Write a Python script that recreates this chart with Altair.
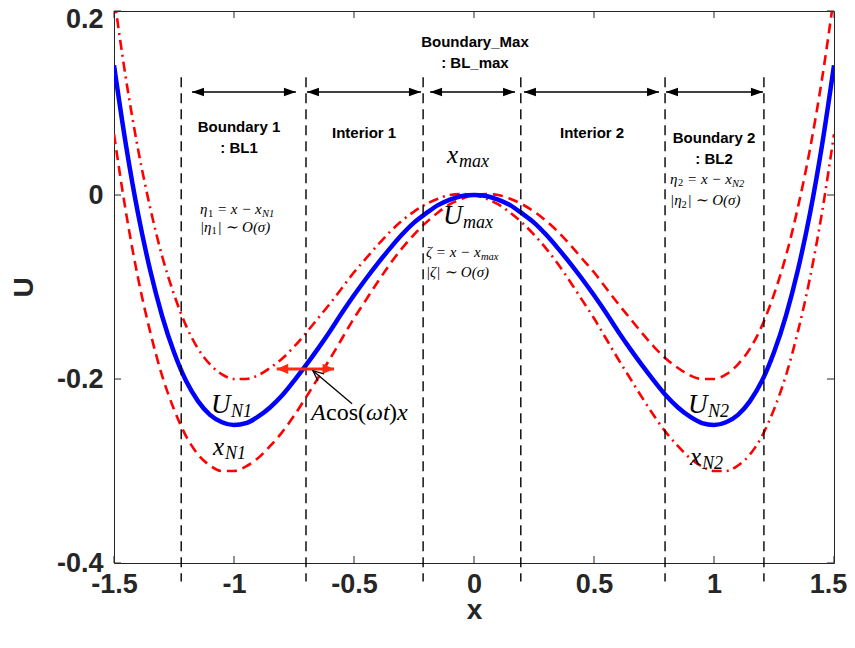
import altair as alt
import pandas as pd

# ---------------- data ----------------
x_vals = [-1.50, -1.45, -1.40, -1.35, -1.30, -1.25, -1.20, -1.15, -1.10, -1.05,
          -1.00, -0.95, -0.90, -0.85, -0.80, -0.75, -0.70, -0.65, -0.60, -0.55,
          -0.50, -0.45, -0.40, -0.35, -0.30, -0.25, -0.20, -0.15, -0.10, -0.05,
          0.00, 0.05, 0.10, 0.15, 0.20, 0.25, 0.30, 0.35, 0.40, 0.45,
          0.50, 0.55, 0.60, 0.65, 0.70, 0.75, 0.80, 0.85, 0.90, 0.95,
          1.00, 1.05, 1.10, 1.15, 1.20, 1.25, 1.30, 1.35, 1.40, 1.45, 1.50]

u_vals = [0.141, 0.054, -0.020, -0.081, -0.131, -0.171, -0.202, -0.224, -0.239, -0.247,
          -0.250, -0.248, -0.241, -0.231, -0.218, -0.202, -0.185, -0.167, -0.148, -0.128,
          -0.109, -0.091, -0.074, -0.058, -0.043, -0.030, -0.020, -0.011, -0.005, -0.001,
          0.000, -0.001, -0.005, -0.011, -0.020, -0.030, -0.043, -0.058, -0.074, -0.091,
          -0.109, -0.128, -0.148, -0.167, -0.185, -0.202, -0.218, -0.231, -0.241, -0.248,
          -0.250, -0.247, -0.239, -0.224, -0.202, -0.171, -0.131, -0.081, -0.020, 0.054, 0.141]

red_dashdot_vals = [0.216, 0.126, 0.050, -0.013, -0.066, -0.108, -0.142, -0.167, -0.184, -0.195,
                    -0.200, -0.200, -0.196, -0.188, -0.178, -0.165, -0.150, -0.134, -0.118, -0.101,
                    -0.084, -0.069, -0.054, -0.040, -0.028, -0.018, -0.010, -0.004, 0.000, 0.001,
                    0.000, -0.004, -0.010, -0.019, -0.030, -0.043, -0.058, -0.075, -0.094, -0.114,
                    -0.134, -0.156, -0.178, -0.199, -0.220, -0.240, -0.258, -0.273, -0.286, -0.295,
                    -0.300, -0.300, -0.294, -0.282, -0.262, -0.233, -0.196, -0.148, -0.090, -0.019, 0.066]

red_dashed_vals = [0.066, -0.019, -0.090, -0.148, -0.196, -0.233, -0.262, -0.282, -0.294, -0.300,
                   -0.300, -0.295, -0.286, -0.273, -0.258, -0.240, -0.220, -0.199, -0.178, -0.156,
                   -0.134, -0.114, -0.094, -0.075, -0.058, -0.043, -0.030, -0.019, -0.010, -0.004,
                   0.000, 0.001, 0.000, -0.004, -0.010, -0.018, -0.028, -0.040, -0.054, -0.069,
                   -0.084, -0.101, -0.118, -0.134, -0.150, -0.165, -0.178, -0.188, -0.196, -0.200,
                   -0.200, -0.195, -0.184, -0.167, -0.142, -0.108, -0.066, -0.013, 0.050, 0.126, 0.216]

x_ticks = [-1.5, -1.0, -0.5, 0.0, 0.5, 1.0, 1.5]
y_ticks = [-0.4, -0.2, 0.0, 0.2]

region_bounds = [-1.22, -0.70, -0.212, 0.195, 0.796, 1.208]
region_top = 0.128
region_bottom = -0.42

arrow_level = 0.112
arrow_left = [-1.175, -0.696, -0.183, 0.208, 0.800]
arrow_right = [-0.742, -0.221, 0.171, 0.771, 1.204]

region_texts = ["Boundary 1", ": BL1", "Interior 1", "Boundary_Max", ": BL_max",
                "Interior 2", "Boundary 2", ": BL2"]
region_text_x = [-0.979, -0.979, -0.458, 0.004, 0.004, 0.492, 1.0, 1.0]
region_text_y = [0.074, 0.051, 0.067, 0.166, 0.1435, 0.067, 0.062, 0.039]

red_arrow_x = [-0.822, -0.583]
red_arrow_y = -0.189

note_tail = (-0.508, -0.227)
note_tip = (-0.671, -0.191)

# ---------------- helpers ----------------
XS = alt.Scale(domain=[-1.5, 1.5], nice=False, zero=False)
YS = alt.Scale(domain=[-0.4, 0.2], nice=False, zero=False)
AXIS_COLOR = "#262626"
SANS = "Liberation Sans"
SERIF = "Liberation Serif"

one = pd.DataFrame({"k": [0]})

curves = pd.DataFrame({"x": x_vals, "u": u_vals,
                       "dd": red_dashdot_vals, "da": red_dashed_vals})

base = alt.Chart(curves)

x_axis = alt.Axis(values=x_ticks, labelExpr="toString(datum.value)", title="x",
                  labelFont=SANS, labelFontSize=27, labelFontWeight="bold",
                  labelColor=AXIS_COLOR, labelPadding=8, labelFlush=False,
                  labelOffset={"condition": {"test": "datum.value > 1.4", "value": -6},
                               "value": 0},
                  labelOverlap=False, ticks=False, domain=False, grid=False,
                  titleFont=SANS, titleFontSize=28, titleFontWeight="bold",
                  titleColor=AXIS_COLOR, titleX=360, titleY=47,
                  titleBaseline="middle", titleAlign="center")
y_axis = alt.Axis(values=y_ticks, labelExpr="toString(datum.value)", title="U",
                  labelFont=SANS, labelFontSize=27, labelFontWeight="bold",
                  labelColor=AXIS_COLOR, labelPadding=11, labelFlush=False,
                  labelOffset={"condition": {"test": "datum.value > 0.15", "value": 8},
                               "value": 0},
                  labelOverlap=False, ticks=False, domain=False, grid=False,
                  titleFont=SANS, titleFontSize=28, titleFontWeight="bold",
                  titleColor=AXIS_COLOR, titleX=-90, titleY=276,
                  titleBaseline="middle", titleAlign="center", titleAngle=270)

dashdot = base.mark_line(color="#ff0000", strokeWidth=2.6, strokeDash=[10, 5, 2, 5],
                         clip=True, interpolate="monotone").encode(
    x=alt.X("x:Q", scale=XS, axis=x_axis),
    y=alt.Y("dd:Q", scale=YS, axis=y_axis))
dashed = base.mark_line(color="#ff0000", strokeWidth=2.6, strokeDash=[10, 6],
                        clip=True, interpolate="monotone").encode(
    x=alt.X("x:Q"), y=alt.Y("da:Q"))
blue = base.mark_line(color="#0000ff", strokeWidth=4.5, clip=True,
                      interpolate="monotone").encode(x=alt.X("x:Q"), y=alt.Y("u:Q"))

# frame ticks (inside, MATLAB style)
xt = alt.Chart(pd.DataFrame({"t": x_ticks}))
yt = alt.Chart(pd.DataFrame({"t": y_ticks}))
tick_style = dict(color=AXIS_COLOR, strokeWidth=1)
ticks = [
    xt.mark_rule(**tick_style).encode(x="t:Q", y=alt.value(552), y2=alt.value(545)),
    xt.mark_rule(**tick_style).encode(x="t:Q", y=alt.value(0), y2=alt.value(7)),
    yt.mark_rule(**tick_style).encode(y="t:Q", x=alt.value(0), x2=alt.value(7)),
    yt.mark_rule(**tick_style).encode(y="t:Q", x=alt.value(720), x2=alt.value(713)),
]

# region boundaries
rb = pd.DataFrame({"x": region_bounds, "y1": [region_top] * len(region_bounds),
                   "y2": [region_bottom] * len(region_bounds)})
region_lines = alt.Chart(rb).mark_rule(color="black", strokeWidth=1.4,
                                       strokeDash=[10, 6], clip=False).encode(
    x="x:Q", y="y1:Q", y2="y2:Q")

# double arrows between the regions
ar = pd.DataFrame({"a": arrow_left, "b": arrow_right,
                   "y": [arrow_level] * len(arrow_left)})
arrow_lines = alt.Chart(ar).mark_rule(color="black", strokeWidth=1.5).encode(
    x="a:Q", x2="b:Q", y="y:Q")
HEAD_R = "M0,0 L-2.4,-0.85 L-2.4,0.85 Z"
HEAD_L = "M0,0 L2.4,-0.85 L2.4,0.85 Z"
arrow_heads_l = alt.Chart(ar).mark_point(shape=HEAD_L, filled=True, color="black",
                                         size=100, opacity=1).encode(x="a:Q", y="y:Q")
arrow_heads_r = alt.Chart(ar).mark_point(shape=HEAD_R, filled=True, color="black",
                                         size=100, opacity=1).encode(x="b:Q", y="y:Q")

# region titles
rt = pd.DataFrame({"x": region_text_x, "y": region_text_y, "t": region_texts})
region_titles = alt.Chart(rt).mark_text(font=SANS, fontWeight="bold", fontSize=15,
                                        color="black", align="center",
                                        baseline="middle").encode(
    x="x:Q", y="y:Q", text="t:N")

# red double arrow  (A cos(wt) x)
RED = "#ff2a12"
red_line = alt.Chart(one).mark_rule(color=RED, strokeWidth=3).encode(
    x=alt.datum(red_arrow_x[0]), x2=alt.datum(red_arrow_x[1]), y=alt.datum(red_arrow_y))
red_head_l = alt.Chart(one).mark_point(shape="M0,0 L2.2,-1 L2.2,1 Z", filled=True,
                                       color=RED, size=110, opacity=1).encode(
    x=alt.datum(red_arrow_x[0]), y=alt.datum(red_arrow_y))
red_head_r = alt.Chart(one).mark_point(shape="M0,0 L-2.2,-1 L-2.2,1 Z", filled=True,
                                       color=RED, size=110, opacity=1).encode(
    x=alt.datum(red_arrow_x[1]), y=alt.datum(red_arrow_y))

# annotation arrow
note_line = alt.Chart(one).mark_rule(color="black", strokeWidth=1.3).encode(
    x=alt.datum(note_tail[0]), y=alt.datum(note_tail[1]),
    x2=alt.datum(note_tip[0]), y2=alt.datum(note_tip[1]))
note_head = alt.Chart(one).mark_point(shape="M-2,-0.9 L0,0 L-2,0.9", filled=False,
                                      color="black", strokeWidth=1.3, size=110,
                                      angle=220, opacity=1).encode(
    x=alt.datum(note_tip[0]), y=alt.datum(note_tip[1]))


def math_label(x, y, parts):
    out = []
    for text, dx, dy, size, style in parts:
        out.append(alt.Chart(one).mark_text(
            text=text, font=SERIF, fontSize=size, fontStyle=style, color="black",
            align="left", baseline="alphabetic", dx=dx, dy=dy).encode(
            x=alt.datum(x), y=alt.datum(y)))
    return out


labels = []
labels += math_label(-1.142, -0.021, [("η", 0, 0, 15, "italic"), ("1", 8, 2.5, 10.5, "normal"),
                                      ("= x − x", 17, 0, 15, "italic"),
                                      ("N1", 62, 3, 10.5, "italic")])
labels += math_label(-1.142, -0.040, [("|η", 0, 0, 15, "italic"), ("1", 11.5, 2.5, 10.5, "normal"),
                                      ("| ∼ O(σ)", 17.5, 0, 15, "italic")])
labels += math_label(0.817, 0.012, [("η", 0, 0, 15, "italic"), ("2", 8, 2.5, 10.5, "normal"),
                                    ("= x − x", 17, 0, 15, "italic"),
                                    ("N2", 62, 3, 10.5, "italic")])
labels += math_label(0.817, -0.011, [("|η", 0, 0, 15, "italic"), ("2", 11.5, 2.5, 10.5, "normal"),
                                     ("| ∼ O(σ)", 17.5, 0, 15, "italic")])
labels += math_label(-0.200, -0.0675, [("ζ = x − x", 0, 0, 15, "italic"),
                                       ("max", 55, 3, 10.5, "italic")])
labels += math_label(-0.200, -0.089, [("|ζ| ∼ O(σ)", 0, 0, 15, "italic")])
labels += math_label(-0.1125, 0.035, [("x", 0, 0, 25, "italic"), ("max", 12, 4, 18, "italic")])
labels += math_label(-0.129, -0.0315, [("U", 0, 0, 27, "italic"), ("max", 20, 4, 18, "italic")])
labels += math_label(-1.096, -0.237, [("U", 0, 0, 27, "italic"), ("N1", 20, 4, 18, "italic")])
labels += math_label(-1.0875, -0.2826, [("x", 0, 0, 25, "italic"), ("N1", 12, 4, 18, "italic")])
labels += math_label(0.892, -0.237, [("U", 0, 0, 27, "italic"), ("N2", 20, 4, 18, "italic")])
labels += math_label(0.900, -0.2935, [("x", 0, 0, 25, "italic"), ("N2", 12, 4, 18, "italic")])
labels += math_label(-0.679, -0.2446, [("A", 0, 0, 24, "italic"), ("cos(", 15, 0, 24, "normal"),
                                       ("ωt", 55, 0, 24, "italic"), (")", 78, 0, 24, "normal"),
                                       ("x", 86, 0, 24, "italic")])

layers = ([dashdot, dashed, blue] + ticks +
          [region_lines, arrow_lines, arrow_heads_l, arrow_heads_r, region_titles,
           red_line, red_head_l, red_head_r, note_line, note_head] + labels)

chart = alt.layer(*layers).properties(
    width=720, height=552,
    autosize=alt.AutoSizeParams(type="none"),
    padding={"left": 106, "top": 3, "right": 13, "bottom": 70},
    background="white",
).configure_view(stroke=AXIS_COLOR, strokeWidth=1)

chart.save("out.html", embed_options={"renderer": "svg", "actions": False})
